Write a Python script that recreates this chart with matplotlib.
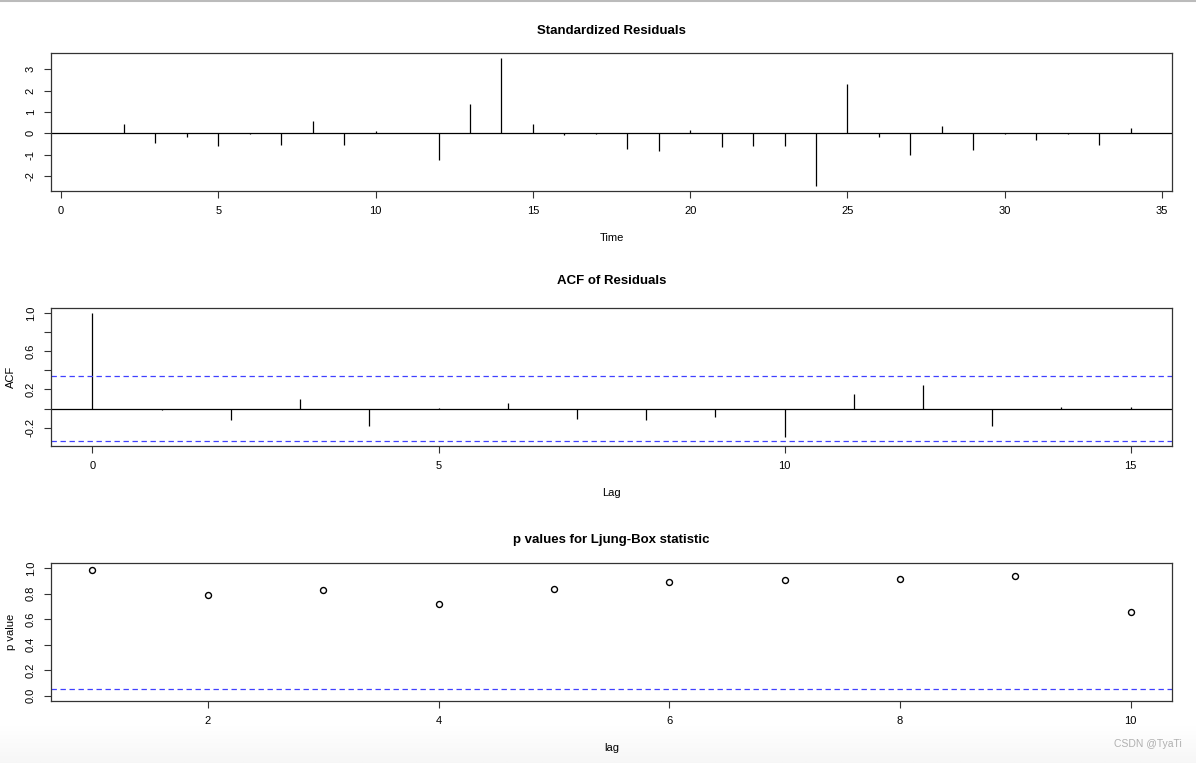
import numpy as np
import matplotlib.pyplot as plt

plt.rcParams['font.family'] = ['Liberation Sans', 'DejaVu Sans']
plt.rcParams['axes.unicode_minus'] = False

# Standardized residuals (t = 1..34)
time = list(range(1, 35))
std_resid = [0.02, 0.44, -0.44, -0.16, -0.59, -0.03, -0.54, 0.58, -0.53, 0.11,
             0.02, -1.26, 1.37, 3.53, 0.44, -0.08, -0.05, -0.72, -0.82, 0.16,
             -0.64, -0.59, -0.62, -2.47, 2.30, -0.16, -1.00, 0.36, -0.78, -0.02,
             -0.30, -0.03, -0.53, 0.23]

# ACF of residuals (lag 0..15)
lags = list(range(0, 16))
acf_vals = [1.0, -0.01, -0.118, 0.105, -0.181, 0.01, 0.063, -0.108, -0.118,
            -0.084, -0.293, 0.157, 0.244, -0.181, 0.021, 0.021]
n_obs = 34

# Ljung-Box p values (lag 1..10)
lb_lags = list(range(1, 11))
lb_pvals = [0.982, 0.791, 0.828, 0.715, 0.833, 0.893, 0.909, 0.914, 0.937, 0.655]

blue = (0.25, 0.25, 1.0)
dash = (0, (4.3, 2.9))

fig = plt.figure(figsize=(11.96, 7.63), dpi=100)

# soft shadow at the bottom of the screenshot
shade = fig.add_axes([0, 0, 1, 0.05], zorder=-5)
grad = np.linspace(0, 1, 50).reshape(-1, 1) * np.ones((1, 200))
shade.imshow(grad, cmap='Greys', vmin=0, vmax=14, aspect='auto',
             origin='upper', extent=[0, 1, 0, 1])
shade.axis('off')

ax1 = fig.add_axes([0.0426, 0.7497, 0.9374, 0.1809])
ax2 = fig.add_axes([0.0426, 0.4155, 0.9374, 0.1809])
ax3 = fig.add_axes([0.0426, 0.0813, 0.9374, 0.1809])


def r_style(ax):
    for s in ax.spines.values():
        s.set_linewidth(0.9)
        s.set_color('#333333')
    ax.tick_params(direction='out', length=5, width=0.8, labelsize=8,
                   pad=6, color='#333333')
    for lab in ax.get_yticklabels():
        lab.set_rotation(90)
        lab.set_va('center')


# Standardized residuals
ax1.vlines(time, 0, std_resid, color='black', linewidth=0.9)
ax1.axhline(0, color='black', linewidth=0.9)
ax1.set_xlim(-0.32, 35.32)
ax1.set_ylim(-2.71, 3.77)
ax1.set_xticks([0, 5, 10, 15, 20, 25, 30, 35])
ax1.set_yticks([-2, -1, 0, 1, 2, 3])
ax1.set_title("Standardized Residuals", fontsize=9.5, fontweight='bold', pad=14)
ax1.set_xlabel("Time", fontsize=8, labelpad=12)
r_style(ax1)

# ACF
clim = 1.96 / np.sqrt(n_obs)
ax2.vlines(lags, 0, acf_vals, color='black', linewidth=0.9)
ax2.axhline(0, color='black', linewidth=0.9)
ax2.axhline(clim, color=blue, linewidth=0.9, linestyle=dash)
ax2.axhline(-clim, color=blue, linewidth=0.9, linestyle=dash)
ax2.set_xlim(-0.6, 15.6)
ax2.set_ylim(-0.392, 1.054)
ax2.set_xticks([0, 5, 10, 15])
ax2.set_yticks([-0.2, 0.0, 0.2, 0.4, 0.6, 0.8, 1.0])
ax2.set_yticklabels(['-0.2', '', '0.2', '', '0.6', '', '1.0'])
ax2.set_title("ACF of Residuals", fontsize=9.5, fontweight='bold', pad=17)
ax2.set_xlabel("Lag", fontsize=8, labelpad=12)
ax2.set_ylabel("ACF", fontsize=8, labelpad=7)
r_style(ax2)

# Ljung-Box p values
ax3.plot(lb_lags, lb_pvals, 'o', markersize=4.3, markerfacecolor='none',
         markeredgecolor='black', markeredgewidth=1.0)
ax3.axhline(0.05, color=blue, linewidth=0.9, linestyle=dash)
ax3.set_xlim(0.64, 10.36)
ax3.set_ylim(-0.04, 1.04)
ax3.set_xticks([2, 4, 6, 8, 10])
ax3.set_yticks([0.0, 0.2, 0.4, 0.6, 0.8, 1.0])
ax3.set_yticklabels(['0.0', '0.2', '0.4', '0.6', '0.8', '1.0'])
ax3.set_title("p values for Ljung-Box statistic", fontsize=9.5,
              fontweight='bold', pad=14)
ax3.set_xlabel("lag", fontsize=8, labelpad=12)
ax3.set_ylabel("p value", fontsize=8, labelpad=7)
r_style(ax3)

# browser frame line and watermark
fig.add_artist(plt.Line2D([0, 1], [0.999, 0.999], color='#bbbbbb', linewidth=1.5))
fig.text(0.988, 0.021, "CSDN @TyaTi", fontsize=7.5, color='#b0b0b0', ha='right')

fig.savefig("out.png", dpi=100)
